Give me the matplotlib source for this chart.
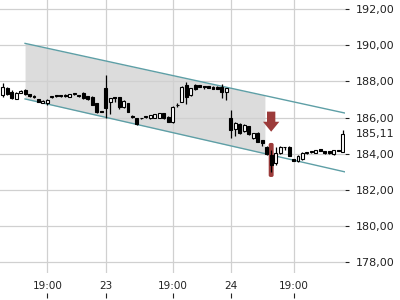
import matplotlib
matplotlib.use("Agg")
import matplotlib.pyplot as plt
from matplotlib.patches import FancyBboxPatch, FancyArrow
import numpy as np

# ---- data ----
opens = [187.25, 187.62, 187.43, 187.05, 187.38, 187.52, 187.30, 187.22, 187.00, 186.83,
         186.80, 187.12, 187.22, 187.22, 187.26, 187.15, 187.28, 187.24, 187.38, 187.19,
         187.16, 186.78, 186.34, 187.62, 186.88, 187.12, 187.12, 186.60, 186.79, 186.07,
         185.96, 185.97, 186.04, 185.96, 185.99, 185.99, 186.24, 186.05, 185.77, 186.68,
         186.88, 187.80, 187.25, 187.80, 187.80, 187.75, 187.75, 187.70, 187.70, 187.70,
         187.42, 185.96, 185.35, 185.65, 185.27, 185.54, 184.85, 185.17, 184.76, 184.39,
         183.93, 183.47, 184.03, 184.38, 184.39, 183.71, 183.62, 183.70, 184.05, 184.11,
         184.04, 184.26, 184.15, 184.15, 183.97, 184.21, 184.12]
closes = [187.67, 187.30, 187.07, 187.38, 187.49, 187.29, 187.19, 187.15, 186.88, 186.93,
          186.97, 187.20, 187.20, 187.20, 187.18, 187.28, 187.35, 187.22, 187.07, 187.01,
          186.72, 186.30, 186.32, 186.55, 187.06, 187.08, 186.57, 186.92, 186.33, 186.05,
          185.63, 185.95, 186.06, 186.14, 186.18, 186.24, 185.96, 185.77, 186.60, 186.72,
          187.70, 187.15, 187.62, 187.58, 187.70, 187.70, 187.64, 187.58, 187.58, 187.42,
          187.62, 185.31, 185.72, 185.13, 185.59, 185.09, 185.13, 184.67, 184.58, 183.97,
          183.38, 184.03, 184.39, 184.36, 183.90, 183.60, 183.88, 184.03, 184.07, 184.13,
          184.21, 184.15, 184.03, 184.03, 184.21, 184.16, 185.11]
highs = [187.89, 187.70, 187.50, 187.42, 187.55, 187.60, 187.33, 187.25, 187.03, 186.96,
         187.02, 187.22, 187.24, 187.24, 187.28, 187.30, 187.37, 187.25, 187.42, 187.20,
         187.18, 186.80, 186.35, 188.35, 187.10, 187.13, 187.15, 186.95, 186.82, 186.12,
         185.98, 186.00, 186.10, 186.16, 186.20, 186.26, 186.26, 186.07, 186.65, 186.80,
         187.75, 187.98, 187.65, 187.85, 187.82, 187.76, 187.77, 187.72, 187.72, 187.85,
         187.65, 186.42, 185.75, 185.70, 185.62, 185.56, 185.16, 185.20, 184.78, 184.42,
         184.20, 184.39, 184.42, 184.40, 184.42, 183.74, 183.92, 184.10, 184.12, 184.16,
         184.23, 184.28, 184.17, 184.17, 184.23, 184.23, 185.31]
lows = [187.16, 187.25, 187.00, 187.00, 187.35, 187.25, 187.15, 187.10, 186.85, 186.80,
        186.72, 187.10, 187.12, 187.13, 187.16, 187.14, 187.26, 187.12, 187.05, 186.98,
        186.70, 186.25, 186.31, 186.00, 186.20, 186.85, 186.50, 186.55, 186.30, 186.00,
        185.60, 185.93, 186.00, 185.94, 185.97, 185.97, 185.94, 185.75, 185.72, 186.60,
        186.85, 186.73, 187.20, 187.55, 187.68, 187.60, 187.62, 187.56, 187.56, 187.10,
        186.97, 184.85, 184.99, 185.10, 185.20, 185.05, 184.83, 184.65, 184.45, 183.95,
        182.99, 183.38, 184.00, 184.20, 183.88, 183.58, 183.55, 183.65, 184.00, 184.06,
        184.02, 184.13, 184.01, 184.01, 183.95, 184.14, 184.10]

xtick_idx = [10, 23, 38, 51, 65]
xtick_labels = ["19:00", "23", "19:00", "24", "19:00"]
ytick_vals = [178, 180, 182, 184, 186, 188, 190, 192]
last_price = 185.11

channel_x = [5, 76.5]
channel_upper = [190.1, 186.25]
channel_lower = [187.03, 183.0]
shade_end = 58.6

signal_idx = 60
signal_low, signal_high = 182.72, 184.60
arrow_top, arrow_tip = 186.33, 185.22

# ---- figure ----
fig = plt.figure(figsize=(4, 3), dpi=100)
ax = fig.add_axes([0, 0.09, 345 / 400, 0.91])
xlim = (-0.6, 76.5)
ax.set_xlim(*xlim)
ax.set_ylim(177.414, 192.497)

idx = np.arange(len(opens))
o = np.array(opens); c = np.array(closes); h = np.array(highs); l = np.array(lows)

# channel shading and lines
cx = np.array(channel_x, dtype=float)
xs = np.linspace(cx[0], shade_end, 50)
up = np.interp(xs, cx, channel_upper)
lo = np.interp(xs, cx, channel_lower)
ax.fill_between(xs, lo, up, color="#dcdcdc", zorder=0.2, linewidth=0)
teal = "#5e9fa6"
ax.plot(cx, channel_upper, color=teal, lw=1.0, zorder=1.5)
ax.plot(cx, channel_lower, color=teal, lw=1.0, zorder=1.5)

# signal highlight
red = "#9c3b3a"
box = FancyBboxPatch((signal_idx - 0.55, signal_low), 1.1, signal_high - signal_low,
                     boxstyle="round,pad=0,rounding_size=0.4", mutation_aspect=0.25,
                     facecolor=red, edgecolor="none", zorder=2)
ax.add_patch(box)
arr = FancyArrow(signal_idx, arrow_top, 0, arrow_tip - arrow_top, width=1.86,
                 head_width=3.65, head_length=0.55, length_includes_head=True,
                 color=red, zorder=3, linewidth=0)
ax.add_patch(arr)

# candles
ax.vlines(idx, l, h, color="black", lw=0.9, zorder=3)
bottoms = np.minimum(o, c)
heights = np.maximum(np.abs(c - o), 0.03)
colors = ["white" if cc >= oo else "black" for oo, cc in zip(o, c)]
ax.bar(idx, heights, bottom=bottoms, width=0.66, color=colors, edgecolor="black",
       linewidth=0.8, zorder=4)

# axes styling
for s in ax.spines.values():
    s.set_visible(False)
ax.set_xticks(xtick_idx)
ax.tick_params(axis="x", length=0, labelbottom=False)
ax.yaxis.tick_right()
ax.set_yticks(ytick_vals)
ax.set_yticklabels([f"{v:.2f}".replace(".", ",") for v in ytick_vals])
ax.tick_params(axis="y", length=3, width=0.8, pad=4.5, labelsize=8, colors="#222222")
ax.grid(True, color="#d0d0d0", lw=0.9)
ax.set_axisbelow(True)
ax.annotate(f"{last_price:.2f}".replace(".", ","), xy=(1.0, last_price),
            xycoords=("axes fraction", "data"), xytext=(7.5, 0), textcoords="offset points",
            ha="left", va="center", fontsize=8, color="#222222", annotation_clip=False)

# bottom time labels with ticks beneath them
ax2 = fig.add_axes([0, 0.0057, 345 / 400, 0.0001])
ax2.set_xlim(*xlim)
ax2.patch.set_visible(False)
for s in ax2.spines.values():
    s.set_visible(False)
ax2.yaxis.set_visible(False)
ax2.xaxis.tick_top()
ax2.set_xticks(xtick_idx)
ax2.set_xticklabels(xtick_labels)
ax2.tick_params(axis="x", direction="out", length=3.6, width=0.8, pad=1.5,
                labelsize=7.5, colors="#222222", top=True, labeltop=True,
                bottom=False, labelbottom=False)

fig.savefig("out.png", dpi=100)
